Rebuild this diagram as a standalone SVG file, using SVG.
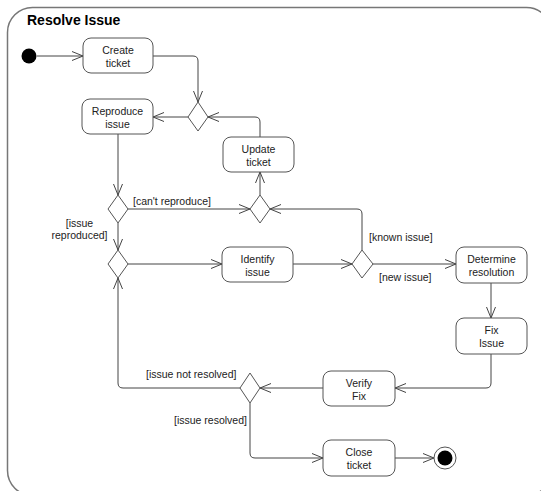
<svg xmlns="http://www.w3.org/2000/svg" width="541" height="491" viewBox="0 0 541 491">
<defs>
<marker id="arr" viewBox="0 0 12 10" markerWidth="12" markerHeight="10" refX="11" refY="5" orient="auto" markerUnits="userSpaceOnUse">
<path d="M0,0.5 L11,5 L0,9.5" fill="none" stroke="#444" stroke-width="1"/>
</marker>
</defs>
<style>
.frame{fill:#fff;stroke:#777;stroke-width:1.5}
.node{fill:#fff;stroke:#555;stroke-width:1}
.dia{fill:#fff;stroke:#555;stroke-width:1}
.t{font-family:"Liberation Sans",Arial,sans-serif;font-size:10.5px;fill:#222}
.c{text-anchor:middle}
.title{font-family:"Liberation Sans",Arial,sans-serif;font-size:14px;font-weight:bold;fill:#000}
.edge{fill:none;stroke:#444;stroke-width:1;marker-end:url(#arr)}
</style>
<rect class="frame" x="7.5" y="7.5" width="544" height="488" rx="25" ry="25"/>
<text class="title" x="27" y="25">Resolve Issue</text>

<g id="connectors">
<path class="edge" d="M37,56 H83"/>
<path class="edge" d="M153,56 H193 Q198,56 198,61 V102"/>
<path class="edge" d="M188,117 H153"/>
<path class="edge" d="M260,137 V122 Q260,117 255,117 H208"/>
<path class="edge" d="M118,134 V195"/>
<path class="edge" d="M128,209 H250"/>
<path class="edge" d="M118,223 V250"/>
<path class="edge" d="M260,195 V172"/>
<path class="edge" d="M362,250 V214 Q362,209 357,209 H270"/>
<path class="edge" d="M128,264 H222"/>
<path class="edge" d="M293,264 H352"/>
<path class="edge" d="M373,264 H456"/>
<path class="edge" d="M491,283 V318"/>
<path class="edge" d="M491,354 V383 Q491,388 486,388 H395"/>
<path class="edge" d="M323,388 H260"/>
<path class="edge" d="M240,388 H123 Q118,388 118,383 V278"/>
<path class="edge" d="M250,403 V453 Q250,458 255,458 H323"/>
<path class="edge" d="M395,458 H434"/>
</g>
<g id="labels">
<text class="t" x="133" y="205">[can't reproduce]</text>
<text class="t c" x="79.5" y="227">[issue</text>
<text class="t c" x="79.5" y="239">reproduced]</text>
<text class="t" x="369" y="241">[known issue]</text>
<text class="t" x="379" y="281">[new issue]</text>
<text class="t" x="146" y="378">[issue not resolved]</text>
<text class="t" x="174" y="424">[issue resolved]</text>
</g>

<g id="start"><circle cx="29" cy="56" r="7.5" fill="#000"/></g>
<g id="create-ticket"><rect class="node" x="83" y="38" width="70" height="35" rx="8"/><text class="t c" x="118" y="53.5">Create</text><text class="t c" x="118" y="66.5">ticket</text></g>
<g id="reproduce-issue"><rect class="node" x="82" y="99" width="71" height="35" rx="8"/><text class="t c" x="117.5" y="114.5">Reproduce</text><text class="t c" x="117.5" y="127.5">issue</text></g>
<g id="update-ticket"><rect class="node" x="223" y="137" width="71" height="35" rx="8"/><text class="t c" x="258.5" y="152.5">Update</text><text class="t c" x="258.5" y="165.5">ticket</text></g>
<g id="identify-issue"><rect class="node" x="222" y="247" width="71" height="35" rx="8"/><text class="t c" x="257.5" y="262.5">Identify</text><text class="t c" x="257.5" y="275.5">issue</text></g>
<g id="determine-resolution"><rect class="node" x="456" y="247" width="71" height="36" rx="8"/><text class="t c" x="491.5" y="263">Determine</text><text class="t c" x="491.5" y="276">resolution</text></g>
<g id="fix-issue"><rect class="node" x="456" y="318" width="71" height="36" rx="8"/><text class="t c" x="491.5" y="334">Fix</text><text class="t c" x="491.5" y="347">Issue</text></g>
<g id="verify-fix"><rect class="node" x="323" y="371" width="72" height="35" rx="8"/><text class="t c" x="359" y="386.5">Verify</text><text class="t c" x="359" y="399.5">Fix</text></g>
<g id="close-ticket"><rect class="node" x="323" y="440" width="72" height="36" rx="8"/><text class="t c" x="359" y="456">Close</text><text class="t c" x="359" y="469">ticket</text></g>
<g id="end"><circle cx="445" cy="458" r="11" fill="#fff" stroke="#555" stroke-width="1"/><circle cx="445" cy="458" r="7.5" fill="#000"/></g>

<g id="decision1"><polygon class="dia" points="198,102 208,117 198,131 188,117"/></g>
<g id="decision2"><polygon class="dia" points="118,195 128,209 118,223 108,209"/></g>
<g id="merge3"><polygon class="dia" points="260,195 270,209 260,223 250,209"/></g>
<g id="merge4"><polygon class="dia" points="118,250 128,264 118,278 108,264"/></g>
<g id="decision5"><polygon class="dia" points="362,250 373,264 362,278 352,264"/></g>
<g id="decision6"><polygon class="dia" points="250,373 260,388 250,403 240,388"/></g>
</svg>
